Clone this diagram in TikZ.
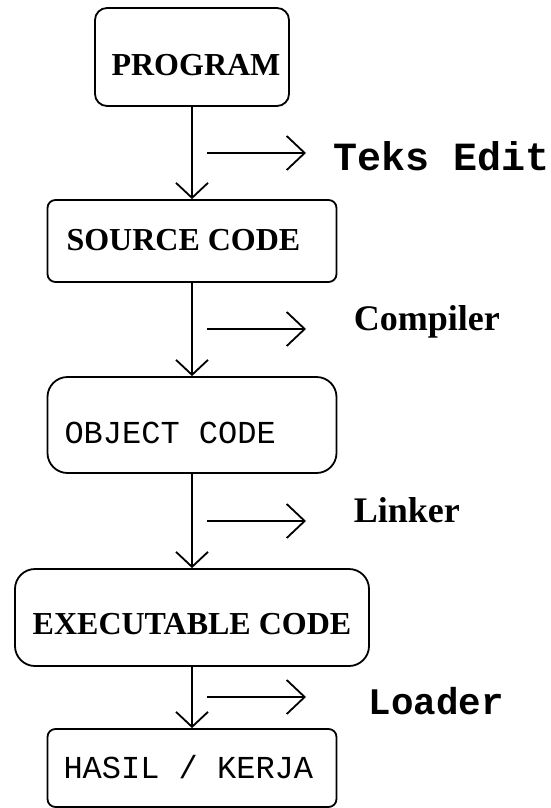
\documentclass[tikz,border=0pt]{standalone}
\usepackage{fontspec}
\setmainfont{Liberation Serif}
\setmonofont{Liberation Mono}
\usetikzlibrary{arrows.meta}
\newcommand{\natsp}{\spaceskip=0pt\xspaceskip=0pt\relax}
\begin{document}
\begin{tikzpicture}[x=1pt,y=-1pt, line width=1.8pt,
  box/.style={draw, line width=1.8pt, inner ysep=0pt},
  serifbox/.style={font=\fontsize{32}{36}\selectfont\bfseries},
  monobox/.style={font=\fontsize{32}{36}\selectfont\ttfamily},
  flow/.style={-{Straight Barb[length=15pt,width=32pt]}},
  side/.style={-{Straight Barb[length=18pt,width=34pt]}},
  lbl/.style={anchor=base west, inner sep=0pt},
  seriflbl/.style={font=\fontsize{36}{40}\selectfont\bfseries}]
\useasboundingbox (0,0) rectangle (551,808);

\node[box, serifbox, rounded corners=12pt, minimum width=194pt, minimum height=98pt,
      text height=36pt, text depth=0pt] (prog) at (192,57) {\hspace*{8pt}PROGRAM};
\node[box, serifbox, rounded corners=8pt, minimum width=289pt, minimum height=82pt,
      inner xsep=19pt, text width=251pt, align=left, text height=18pt, text depth=0pt] (src) at (192,241) {\natsp SOURCE CODE};
\node[box, monobox, rounded corners=20pt, minimum width=289pt, minimum height=96pt,
      inner xsep=17pt, text width=255pt, align=left, text height=36pt, text depth=0pt] (obj) at (192,425) {\natsp OBJECT CODE};
\node[box, serifbox, rounded corners=20pt, minimum width=354pt, minimum height=97pt,
      text height=33pt, text depth=0pt] (exe) at (192,617.5) {EXECUTABLE CODE};
\node[box, monobox, rounded corners=8pt, minimum width=289pt, minimum height=78pt,
      inner xsep=16pt, text width=257pt, align=left, text height=20pt, text depth=0pt] (hasil) at (192,768) {\natsp HASIL / KERJA};

\draw[flow] (prog) -- (src);
\draw[flow] (src) -- (obj);
\draw[flow] (obj) -- (exe);
\draw[flow] (exe) -- (hasil);

\coordinate (s1a) at (207,153); \coordinate (s1b) at (306,153);
\coordinate (s2a) at (207,329); \coordinate (s2b) at (306,329);
\coordinate (s3a) at (207,521); \coordinate (s3b) at (306,521);
\coordinate (s4a) at (207,697); \coordinate (s4b) at (306,697);
\draw[side] (s1a) -- (s1b);
\draw[side] (s2a) -- (s2b);
\draw[side] (s3a) -- (s3b);
\draw[side] (s4a) -- (s4b);

\node[lbl, font=\fontsize{40}{44}\selectfont\ttfamily\bfseries] (teks) at (333,170) {Teks Edit};
\node[lbl, seriflbl] (comp) at (353,330) {Compiler};
\node[lbl, seriflbl] (link) at (353,522) {Linker};
\node[lbl, font=\fontsize{37.5}{42}\selectfont\ttfamily\bfseries] (load) at (368,714) {Loader};
\end{tikzpicture}
\end{document}
